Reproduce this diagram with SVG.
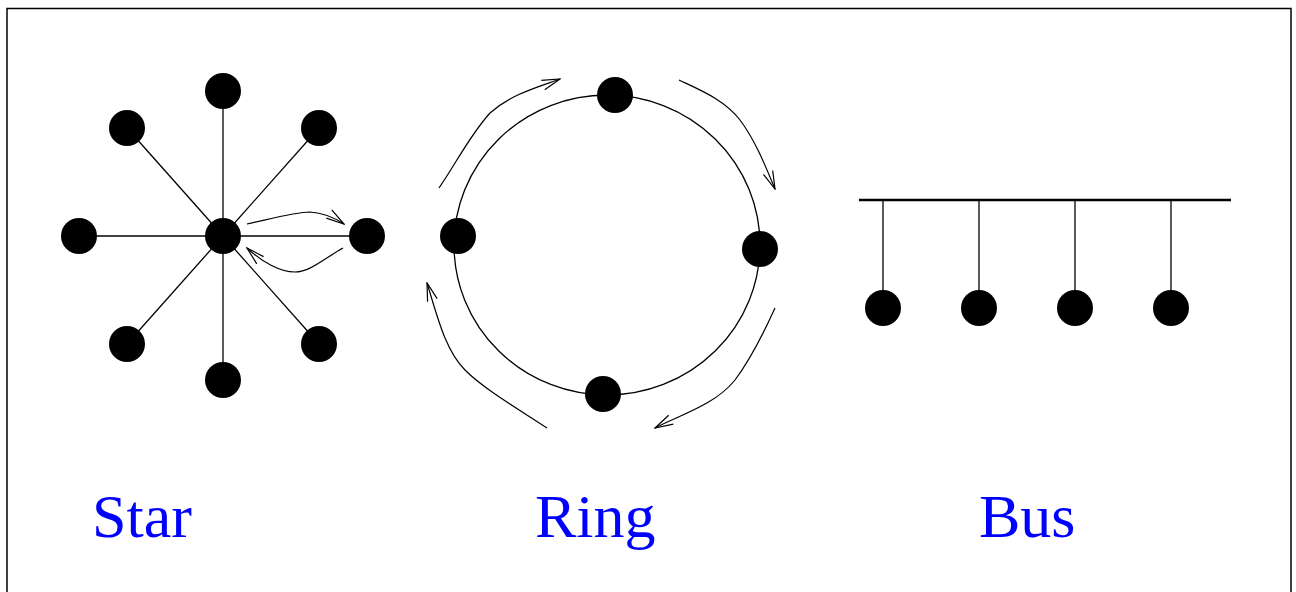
<svg xmlns="http://www.w3.org/2000/svg" width="1296" height="592" viewBox="0 0 1296 592">
<style>
.ln{stroke:#000;stroke-width:1.3;fill:none}
.nd{fill:#000}
.arr{stroke:#000;stroke-width:1.2;fill:none;marker-end:url(#ah)}
.lbl{font-family:"Liberation Serif","Times New Roman",serif;font-size:62px;fill:#0000ff}
</style>
<defs>
<marker id="ah" viewBox="0 0 20 12" refX="19" refY="6" markerWidth="20" markerHeight="12" markerUnits="userSpaceOnUse" orient="auto">
<path d="M1,1 L19,6 L1,11" fill="none" stroke="#000" stroke-width="1.2"/>
</marker>
</defs>
<rect x="7" y="8.5" width="1284" height="600" fill="#fff" stroke="#000" stroke-width="1.5"/>
<g id="connectors">
<line class="ln" x1="223" y1="236" x2="223" y2="91"/>
<line class="ln" x1="223" y1="236" x2="223" y2="380"/>
<line class="ln" x1="223" y1="236" x2="79" y2="236"/>
<line class="ln" x1="223" y1="236" x2="367" y2="236"/>
<line class="ln" x1="223" y1="236" x2="127" y2="128"/>
<line class="ln" x1="223" y1="236" x2="319" y2="128"/>
<line class="ln" x1="223" y1="236" x2="127" y2="344"/>
<line class="ln" x1="223" y1="236" x2="319" y2="344"/>
<path class="arr" d="M247,224 C270,219 295,212 310,212 C325,213 335,218 344,224"/>
<path class="arr" d="M343,248 C325,258 310,272 295,272 C280,272 262,262 247,248"/>
<ellipse class="ln" cx="607" cy="245" rx="153" ry="150"/>
<path class="arr" d="M439,188 C455,165 470,135 490,113 C510,95 535,88 560,79"/>
<path class="arr" d="M679,80 C700,90 725,100 740,120 C755,140 765,165 775,189"/>
<path class="arr" d="M775,308 C765,330 750,360 735,380 C715,405 680,415 655,428"/>
<path class="arr" d="M547,428 C520,410 485,390 465,370 C445,350 437,315 427,283"/>
<line x1="859" y1="200" x2="1231" y2="200" stroke="#000" stroke-width="2.6"/>
<line class="ln" x1="883" y1="200" x2="883" y2="300"/>
<line class="ln" x1="979" y1="200" x2="979" y2="300"/>
<line class="ln" x1="1075" y1="200" x2="1075" y2="300"/>
<line class="ln" x1="1171" y1="200" x2="1171" y2="300"/>
</g>
<g id="star-center"><circle class="nd" cx="223" cy="236" r="18"/></g>
<g id="star-n"><circle class="nd" cx="223" cy="91" r="18"/></g>
<g id="star-s"><circle class="nd" cx="223" cy="380" r="18"/></g>
<g id="star-w"><circle class="nd" cx="79" cy="236" r="18"/></g>
<g id="star-e"><circle class="nd" cx="367" cy="236" r="18"/></g>
<g id="star-nw"><circle class="nd" cx="127" cy="128" r="18"/></g>
<g id="star-ne"><circle class="nd" cx="319" cy="128" r="18"/></g>
<g id="star-sw"><circle class="nd" cx="127" cy="344" r="18"/></g>
<g id="star-se"><circle class="nd" cx="319" cy="344" r="18"/></g>
<g id="ring-n"><circle class="nd" cx="615" cy="95" r="18"/></g>
<g id="ring-w"><circle class="nd" cx="458" cy="236" r="18"/></g>
<g id="ring-e"><circle class="nd" cx="760" cy="249" r="18"/></g>
<g id="ring-s"><circle class="nd" cx="603" cy="394" r="18"/></g>
<g id="bus-1"><circle class="nd" cx="883" cy="308" r="18"/></g>
<g id="bus-2"><circle class="nd" cx="979" cy="308" r="18"/></g>
<g id="bus-3"><circle class="nd" cx="1075" cy="308" r="18"/></g>
<g id="bus-4"><circle class="nd" cx="1171" cy="308" r="18"/></g>
<g id="labels">
<text class="lbl" x="92" y="537">Star</text>
<text class="lbl" x="535" y="537">Ring</text>
<text class="lbl" x="979" y="537">Bus</text>
</g>
</svg>
